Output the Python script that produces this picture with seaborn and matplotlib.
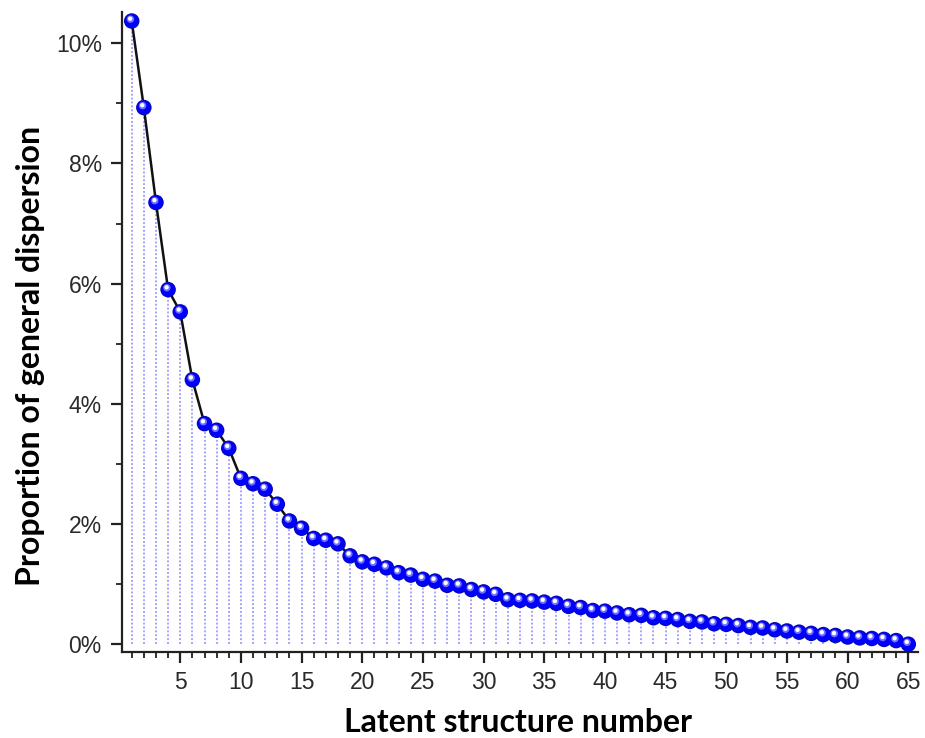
import numpy as np
import pandas as pd
import matplotlib
matplotlib.use("Agg")
import matplotlib.pyplot as plt
from matplotlib.markers import MarkerStyle
from matplotlib.transforms import Affine2D
from matplotlib.ticker import MultipleLocator, FuncFormatter
import seaborn as sns

# Share of total dispersion explained by each latent structure (percent)
structure_number = list(range(1, 66))
dispersion_pct = [
    10.37, 8.93, 7.35, 5.90, 5.53, 4.40, 3.67, 3.56, 3.26, 2.76,
    2.67, 2.58, 2.33, 2.05, 1.93, 1.76, 1.73, 1.67, 1.47, 1.37,
    1.33, 1.27, 1.19, 1.15, 1.08, 1.05, 0.98, 0.97, 0.91, 0.87,
    0.83, 0.74, 0.73, 0.72, 0.70, 0.68, 0.63, 0.61, 0.56, 0.55,
    0.52, 0.49, 0.48, 0.44, 0.43, 0.41, 0.38, 0.37, 0.34, 0.33,
    0.31, 0.28, 0.27, 0.24, 0.22, 0.20, 0.18, 0.16, 0.145, 0.12,
    0.105, 0.095, 0.08, 0.06, 0.0,
]
x_major_ticks = [5, 10, 15, 20, 25, 30, 35, 40, 45, 50, 55, 60, 65]
y_major_ticks = [0, 2, 4, 6, 8, 10]

df = pd.DataFrame({"n": structure_number, "pct": dispersion_pct})

sns.set_theme(style="ticks")
plt.rcParams["font.family"] = ["Liberation Sans", "DejaVu Sans"]

fig = plt.figure(figsize=(9.25, 7.38), dpi=100)
ax = fig.add_axes([122 / 925, 1 - 652 / 738, 796 / 925, 640 / 738])

# faint drop lines from each point down to the axis
ax.vlines(df["n"], 0, df["pct"], colors="#a4a4ff", linestyles=(0, (1, 1)),
          linewidth=1.4, zorder=1)

# connecting line
sns.lineplot(data=df, x="n", y="pct", color="#111111", linewidth=1.8,
             ax=ax, zorder=2)

# sphere-like markers: dark rim, blue body, soft and bright highlights
ax.scatter(df["n"], df["pct"], s=125, color="#0808b0", edgecolor="none", zorder=3)
ax.scatter(df["n"], df["pct"], s=95, color="#0000ff", edgecolor="none", zorder=4)
soft = MarkerStyle("o", transform=Affine2D().scale(0.48).translate(-0.08, 0.12))
ax.scatter(df["n"], df["pct"], s=125, marker=soft, color="#7070ff",
           edgecolor="none", zorder=5)
hl = MarkerStyle("o", transform=Affine2D().scale(0.28).translate(-0.1, 0.15))
ax.scatter(df["n"], df["pct"], s=125, marker=hl, color="white",
           edgecolor="none", zorder=6)

ax.set_xlim(0.2, 65.8)
ax.set_ylim(-0.13, 10.52)
ax.set_xticks(x_major_ticks)
ax.set_yticks(y_major_ticks)
ax.xaxis.set_minor_locator(MultipleLocator(1))
ax.yaxis.set_minor_locator(MultipleLocator(1))
ax.yaxis.set_major_formatter(FuncFormatter(lambda v, p: f"{v:.0f}%"))

for side in ("top", "right"):
    ax.spines[side].set_visible(False)
for side in ("left", "bottom"):
    ax.spines[side].set_linewidth(1.6)
    ax.spines[side].set_color("#222222")

ax.tick_params(axis="both", which="major", direction="out", length=8,
               width=1.6, color="#222222", labelsize=16.5, labelcolor="#2a2a2a")
ax.tick_params(axis="both", which="minor", direction="out", length=4.5,
               width=1.3, color="#222222")
ax.tick_params(axis="x", which="major", pad=5.5)
ax.tick_params(axis="y", which="major", pad=6.5)

ax.set_xlabel("Latent structure number", fontsize=23, fontweight="bold",
              family=["Lato", "DejaVu Sans"], color="black")
ax.set_ylabel("Proportion of general dispersion", fontsize=23,
              fontweight="bold", family=["Lato", "DejaVu Sans"], color="black")
ax.xaxis.set_label_coords(0.497, -0.088)
ax.yaxis.set_label_coords(-0.097, 0.462)

fig.savefig("out.png", dpi=100, facecolor="white")
